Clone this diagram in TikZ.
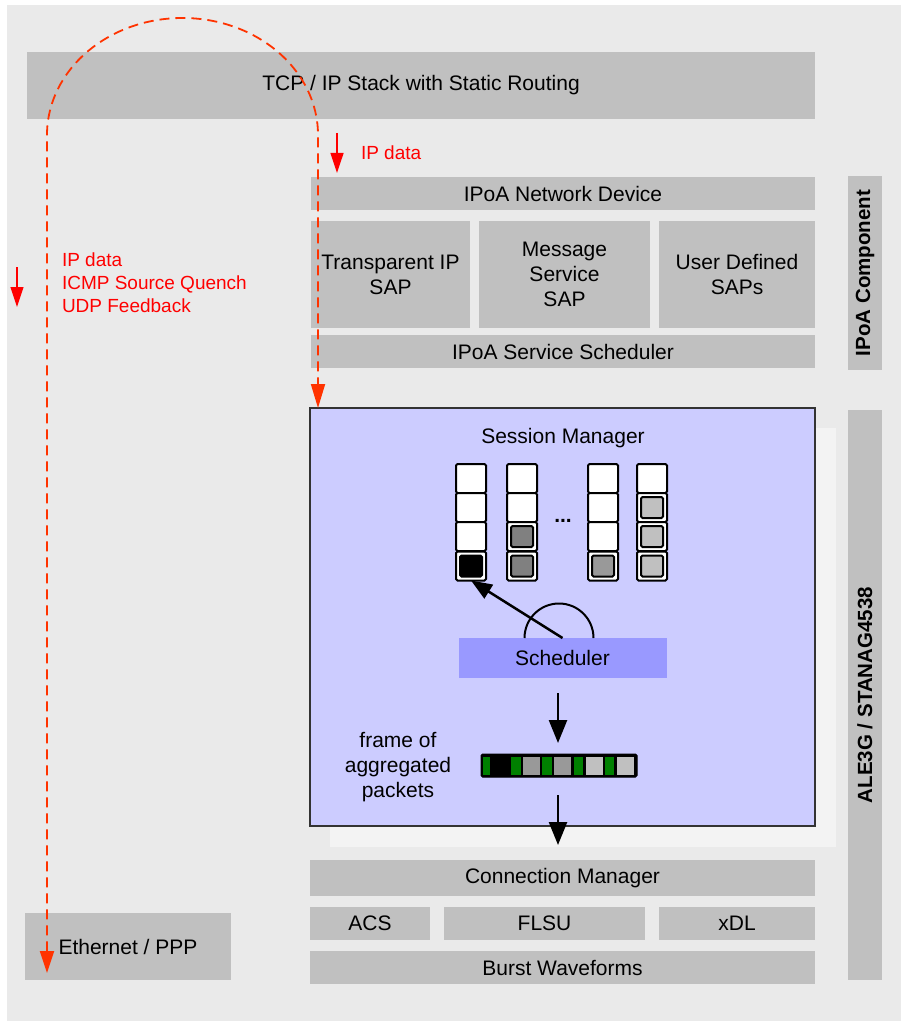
\documentclass[tikz,border=0pt]{standalone}
\usepackage{fontspec}
\setmainfont{Liberation Sans}
\usetikzlibrary{arrows.meta}
\definecolor{bg}{HTML}{EAEAEA}
\definecolor{boxgray}{HTML}{C0C0C0}
\definecolor{smfill}{HTML}{CCCCFF}
\definecolor{smborder}{HTML}{333333}
\definecolor{schedfill}{HTML}{9999FF}
\definecolor{dashred}{HTML}{FF3300}
\definecolor{txtred}{HTML}{FF0000}
\definecolor{pgreen}{HTML}{008000}
\definecolor{pdark}{HTML}{808080}
\definecolor{pmid}{HTML}{999999}
\definecolor{plight}{HTML}{C0C0C0}
\definecolor{shadowc}{HTML}{F3F3F3}
\begin{document}
\begin{tikzpicture}[x=1pt,y=-1pt,
  every node/.style={inner sep=0pt, outer sep=0pt},
  mainfont/.style={font=\fontsize{21}{25}\selectfont},
  layer/.style={fill=boxgray, mainfont, align=center},
  sidelabel/.style={fill=boxgray, rotate=90, font=\fontsize{20.5}{25}\selectfont\bfseries},
  redtext/.style={text=txtred, font=\fontsize{19}{23}\selectfont, align=left},
  reddash/.style={draw=dashred, line width=1.8pt, dash pattern=on 10pt off 6pt},
  redarrow/.style={draw=txtred, line width=1.2pt, -{Triangle[length=20pt,width=13pt]}},
  blackarrow/.style={draw=black, line width=2.5pt, -{Triangle[length=23pt,width=18pt]}},
  qcell/.style={draw=black, line width=2pt, fill=white, rounded corners=1.5pt, minimum width=30pt, minimum height=29pt},
  qpkt/.style={draw=black, line width=2pt, rounded corners=1.5pt, minimum width=22pt, minimum height=21pt},
]
\useasboundingbox (0,0) rectangle (901,1024);
\fill[bg] (7,5) rectangle (901,1021);

% layers
\node[layer, minimum width=788pt, minimum height=67pt] (tcp) at (421,85.5) {TCP / IP Stack with Static Routing};
\node[layer, minimum width=504pt, minimum height=33pt] (netdev) at (563,193.5) {IPoA Network Device};
\node[layer, minimum width=159pt, minimum height=107pt] (sap1) at (390.5,274.5) {Transparent IP\\SAP};
\node[layer, minimum width=171pt, minimum height=107pt] (sap2) at (564.5,274.5) {Message\\Service\\SAP};
\node[layer, minimum width=156pt, minimum height=107pt] (sap3) at (737,274.5) {User Defined\\SAPs};
\node[layer, minimum width=504pt, minimum height=33pt] (svcsched) at (563,351.5) {IPoA Service Scheduler};
\node[sidelabel, minimum width=194pt, minimum height=34pt] (ipoa) at (865,273) {IPoA Component};
\node[sidelabel, minimum width=570pt, minimum height=34pt] (ale) at (865,695) {ALE3G / STANAG4538};

% session manager
\fill[shadowc] (330,428) rectangle (836,847);
\node[draw=smborder, line width=2pt, fill=smfill, minimum width=505pt, minimum height=418pt] (session) at (562.5,617) {};
\node[mainfont] (smtitle) at (563,438) {Session Manager};

% queues
\foreach \c/\x in {1/471, 2/522, 3/603, 4/652}{
  \foreach \r/\y in {1/478.5, 2/507.5, 3/536.5, 4/566}{
    \node[qcell] (q\c\r) at (\x,\y) {};
  }
}
\node[qpkt, fill=black] (p14) at (q14) {};
\node[qpkt, fill=pdark] (p23) at (q23) {};
\node[qpkt, fill=pdark] (p24) at (q24) {};
\node[qpkt, fill=pmid] (p34) at (q34) {};
\node[qpkt, fill=plight] (p42) at (q42) {};
\node[qpkt, fill=plight] (p43) at (q43) {};
\node[qpkt, fill=plight] (p44) at (q44) {};
\node[font=\fontsize{21}{25}\selectfont\bfseries] (dots) at (563,521) {...};

% scheduler
\node[fill=schedfill, mainfont, minimum width=208pt, minimum height=40pt] (sched) at (562.5,658) {Scheduler};
\draw[line width=2pt] (524.5,638) arc[start angle=180, end angle=0, radius=34.5pt];
\draw[black, line width=2.5pt, -{Triangle[length=21pt,width=16pt]}] (sched.north) -- (q14.south);

% frame of aggregated packets
\node[draw=black, fill=black, line width=1pt, rounded corners=1.5pt, minimum width=156pt, minimum height=23pt] (frame) at (559,765.5) {};
\foreach \a/\b/\col in {482.7/490/pgreen, 511/520.7/pgreen, 522.7/540/pmid, 542/551.7/pgreen, 554/571/pmid, 573.7/583.3/pgreen, 586/603.3/plight, 605.3/614.3/pgreen, 616.7/634/plight}{
  \fill[\col] (\a,756.7) rectangle (\b,775);
}
\node[mainfont, align=center] (frametext) at (398,767) {frame of\\aggregated\\packets};
\coordinate (a1s) at (558,693);
\coordinate (a1e) at (558,743);
\coordinate (a2s) at (558,795);
\coordinate (a2e) at (558,845);
\draw[blackarrow] (a1s) -- (a1e);
\draw[blackarrow] (a2s) -- (a2e);

% bottom layers
\node[layer, minimum width=505pt, minimum height=36pt] (conn) at (562.5,878) {Connection Manager};
\node[layer, minimum width=120pt, minimum height=33pt] (acs) at (370,923.5) {ACS};
\node[layer, minimum width=201pt, minimum height=33pt] (flsu) at (544.5,923.5) {FLSU};
\node[layer, minimum width=156pt, minimum height=33pt] (xdl) at (737,923.5) {xDL};
\node[layer, minimum width=505pt, minimum height=33pt] (burst) at (562.5,967.5) {Burst Waveforms};
\node[layer, minimum width=206pt, minimum height=67pt] (eth) at (128,946.5) {Ethernet / PPP};

% red annotations
\node[redtext, anchor=west] (ipdata1) at (361,153) {IP data};
\node[redtext, anchor=north west] (ipdata2) at (62,253) {IP data\\ICMP Source Quench\\UDP Feedback};
\coordinate (ra1s) at (337,133);
\coordinate (ra1e) at (337,173);
\coordinate (ra2s) at (17,267);
\coordinate (ra2e) at (17,307);
\draw[redarrow] (ra1s) -- (ra1e);
\draw[redarrow] (ra2s) -- (ra2e);

% dashed loop
\coordinate (rstart) at (47,973);
\coordinate (rleft) at (47,135);
\coordinate (rend) at (318,408);
\draw[reddash, {Triangle[length=22pt,width=14pt]}-{Triangle[length=24pt,width=14pt]}] (rstart) -- (rleft) arc[start angle=180, end angle=0, x radius=135.5pt, y radius=117pt] -- (rend);
\end{tikzpicture}
\end{document}
